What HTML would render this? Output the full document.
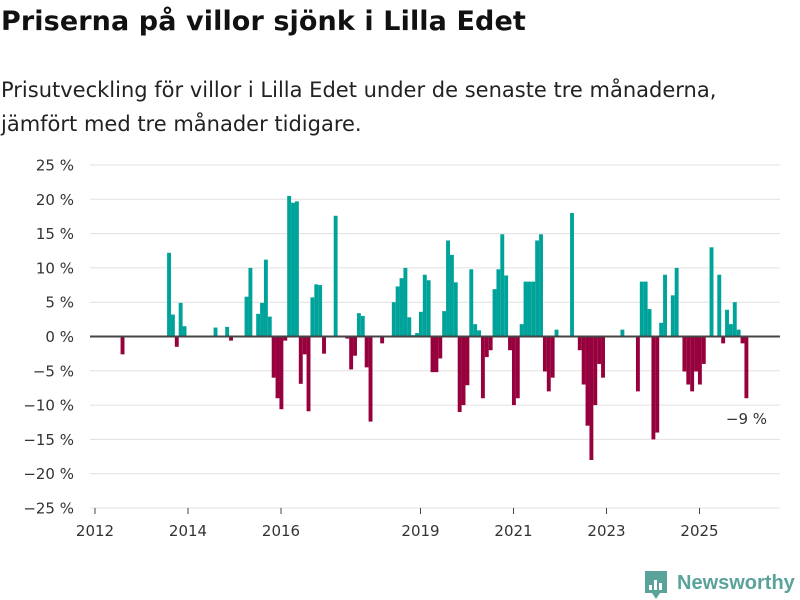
<!DOCTYPE html>
<html><head><meta charset="utf-8"><style>
body{margin:0;background:#fff;font-family:"DejaVu Sans","Liberation Sans",sans-serif;}
#wrap{position:relative;width:800px;height:600px;overflow:hidden;}
h1{position:absolute;left:1px;top:6px;margin:0;font-size:27px;font-weight:bold;color:#111;letter-spacing:0.1px;}
p{position:absolute;left:1px;top:73px;margin:0;font-size:21px;line-height:34px;color:#222;}
svg text{font-family:"DejaVu Sans","Liberation Sans",sans-serif;}
</style></head><body>
<div id="wrap">
<h1>Priserna på villor sjönk i Lilla Edet</h1>
<p>Prisutveckling för villor i Lilla Edet under de senaste tre månaderna,<br>jämfört med tre månader tidigare.</p>
<svg id="chart" width="800" height="600" style="position:absolute;left:0;top:0"></svg>
</div>
<script>
const monthIndex = [6,18,19,20,21,22,30,33,34,38,39,41,42,43,44,45,46,47,48,49,50,51,52,53,54,55,56,57,58,61,
64,65,66,67,68,69,70,73,76,77,78,79,80,81,82,83,84,85,86,87,88,89,90,91,92,93,94,95,96,97,98,99,100,101,102,103,104,105,106,107,108,109,110,111,112,113,114,115,116,
117,118,122,124,125,126,127,128,129,130,135,139,140,141,142,143,144,145,146,148,149,151,152,153,154,155,156,158,160,161,162,163,164,165,166,167];
const changeValues = [-2.6,12.2,3.2,-1.5,4.9,1.5,1.3,1.4,-0.6,5.8,10.0,3.3,4.9,11.2,2.9,-6.0,-9.0,-10.6,-0.6,20.5,19.5,19.7,-6.9,-2.6,-10.9,5.7,7.6,7.5,-2.5,17.6,
-0.3,-4.8,-2.8,3.4,3.0,-4.5,-12.4,-1.0,5.0,7.3,8.5,10.0,2.8,0.2,0.5,3.6,9.0,8.2,-5.2,-5.2,-3.2,3.7,14.0,11.9,7.9,-11.0,-10.0,-7.1,9.8,1.8,0.9,-9.0,-3.0,-2.0,6.9,9.8,14.9,8.9,-2.0,-10.0,-9.0,1.8,8.0,8.0,8.0,14.0,14.9,-5.1,-8.0,
-6.0,1.0,18.0,-2.0,-7.0,-13.0,-18.0,-10.0,-4.0,-6.0,1.0,-8.0,8.0,8.0,4.0,-15.0,-14.0,2.0,9.0,6.0,10.0,-5.1,-7.0,-8.0,-5.1,-7.0,-4.0,13.0,9.0,-1.0,3.9,1.8,5.0,1.0,-1.0,-9.0];
const yTicks = [25,20,15,10,5,0,-5,-10,-15,-20,-25];
const xYears = [2012,2014,2016,2019,2021,2023,2025];
const startYear = 2012;

const NS="http://www.w3.org/2000/svg";
const svg=document.getElementById('chart');
const y=v=>336.5-v*6.86;
const x=m=>95+m*3.875;
function mk(t,a){const e=document.createElementNS(NS,t);for(const k in a)e.setAttribute(k,a[k]);svg.appendChild(e);return e;}
yTicks.forEach(t=>{
  const g=mk('line',{x1:90,x2:780,y1:y(t),y2:y(t),stroke:'#e0e0e0','stroke-width':1});
  
  
  const l=mk('text',{x:74,y:y(t)+5.5,'text-anchor':'end','font-size':15,fill:'#333'});
  l.textContent=(t<0?'\u2212'+(-t):t)+' %';
  
  
});
xYears.forEach(yr=>{
  const xx=x((yr-startYear)*12);
  const tk=mk('line',{x1:xx,x2:xx,y1:508,y2:514,stroke:'#444','stroke-width':1});
  
  
  const l=mk('text',{x:xx,y:536,'text-anchor':'middle','font-size':15,fill:'#333'});
  l.textContent=yr;
  
  
});
monthIndex.forEach((m,i)=>{
  const v=changeValues[i];
  const b=mk('rect',{x:x(m+0.6),width:3.9,y:Math.min(y(v),y(0)),height:Math.abs(y(v)-y(0)),fill:v>=0?'#00a39a':'#96003c'});
  
  
});
const z=mk('line',{x1:90,x2:780,y1:y(0),y2:y(0),stroke:'#444','stroke-width':2});


const lastI=changeValues.length-1;
const lab=mk('text',{x:x(monthIndex[lastI]+0.6)+2,y:y(changeValues[lastI])+26,'text-anchor':'middle','font-size':15,fill:'#333'});
lab.textContent='\u2212'+Math.round(-changeValues[lastI])+' %';


const lg=mk('g',{});


const ic=document.createElementNS(NS,'path');
ic.setAttribute('d','M645 571 h22 v22 h-7 l-4 6 l-4 -6 h-7 z');
ic.setAttribute('fill','#5aa39a');
lg.appendChild(ic);
[[649,585,3,5],[654,580,3,10],[659,583,3,7]].forEach(r=>{const e=document.createElementNS(NS,'rect');e.setAttribute('x',r[0]);e.setAttribute('y',r[1]);e.setAttribute('width',r[2]);e.setAttribute('height',r[3]);e.setAttribute('fill','#fff');lg.appendChild(e);});
const lt=document.createElementNS(NS,'text');
lt.setAttribute('x',677);lt.setAttribute('y',589);lt.setAttribute('font-size',20);lt.setAttribute('font-weight','bold');lt.setAttribute('fill','#5aa39a');
lt.setAttribute('style','font-family:"Liberation Sans",sans-serif');
lt.textContent='Newsworthy';
lg.appendChild(lt);
</script>
</body></html>
